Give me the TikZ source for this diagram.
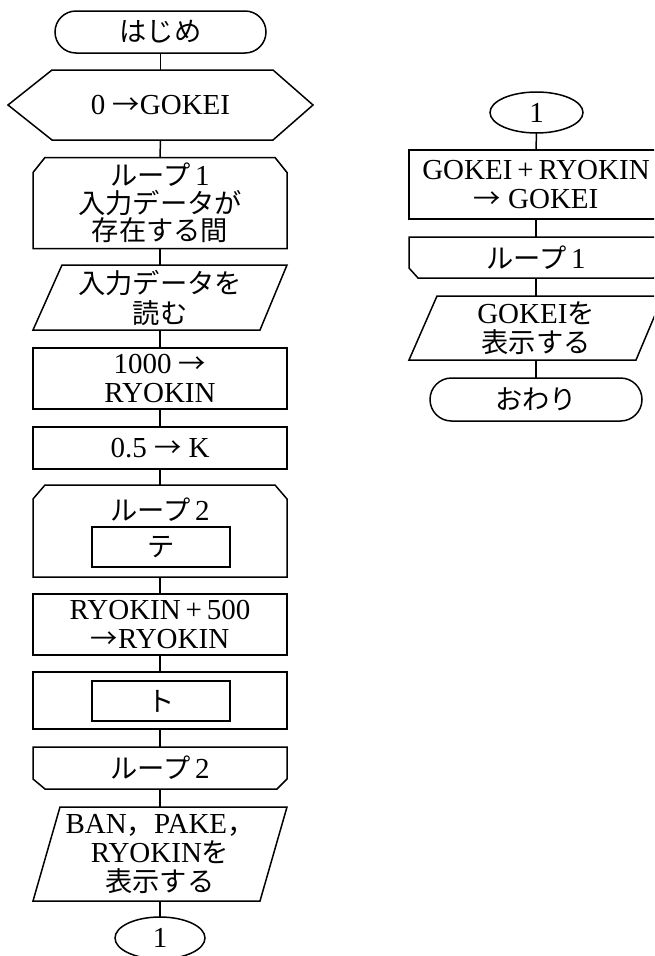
\documentclass[tikz,border=0pt]{standalone}
\usepackage{fontspec}
\setmainfont{Liberation Serif}
\newfontfamily\jpfont{Noto Sans CJK JP}[Scale=0.94]
\newcommand\JT[1]{{\jpfont #1}}
\usetikzlibrary{shapes.geometric,shapes.misc}
\begin{document}
\begin{tikzpicture}[x=1pt,y=-1pt,line width=1.5pt,
  every node/.style={font=\fontsize{29}{29}\selectfont,align=center,inner sep=0pt,outer sep=0pt},
  boxA/.style={draw,rectangle,minimum width=254pt},
  term/.style={draw,rounded rectangle,minimum width=212pt,minimum height=43pt},
  conn/.style={draw,ellipse,minimum width=92pt,minimum height=41pt},
  inbox/.style={draw,rectangle,minimum width=138pt,minimum height=40pt},
  link/.style={line width=1.5pt}]
\useasboundingbox (0,0) rectangle (654,956);
\begin{scope}
\clip (0,0) rectangle (654,956);
% ---------------- left column ----------------
\node[term,minimum width=211pt,minimum height=42pt] (S) at (160.5,32) {\JT{はじめ}};
\node[minimum width=305pt,minimum height=70pt] (H) at (160.5,105) {0 \JT{→}GOKEI};
\draw (H.west) -- ([xshift=44pt]H.north west) -- ([xshift=-40pt]H.north east) -- (H.east)
      -- ([xshift=-40pt]H.south east) -- ([xshift=44pt]H.south west) -- cycle;
\node[minimum width=254pt,minimum height=91pt,font=\fontsize{29}{27.5}\selectfont] (L1) at (160,203)
  {\JT{ループ}\,1\\\JT{入力データが}\\\JT{存在する間}};
\draw ([yshift=-15pt]L1.north west) -- ([xshift=12pt]L1.north west) -- ([xshift=-12pt]L1.north east)
      -- ([yshift=-15pt]L1.north east) -- (L1.south east) -- (L1.south west) -- cycle;
\node[minimum width=254pt,minimum height=65pt,font=\fontsize{29}{30}\selectfont] (P1) at (160,297.5)
  {\JT{入力データを}\\\JT{読む}};
\draw ([xshift=29pt]P1.north west) -- (P1.north east) -- ([xshift=-27pt]P1.south east) -- (P1.south west) -- cycle;
\node[boxA,minimum height=61pt] (B1) at (160,378.5) {1000 \JT{→}\\RYOKIN};
\node[boxA,minimum height=42pt] (B2) at (160,448) {0.5 \JT{→} K};
\node[minimum width=254pt,minimum height=92pt] (L2) at (160,531) {};
\draw ([yshift=-14pt]L2.north west) -- ([xshift=12pt]L2.north west) -- ([xshift=-12pt]L2.north east)
      -- ([yshift=-14pt]L2.north east) -- (L2.south east) -- (L2.south west) -- cycle;
\node (L2t) at (160,510) {\JT{ループ}\,2};
\node[inbox] (T1) at (161,547) {\JT{テ}};
\node[boxA,minimum height=61pt] (B3) at (160,624.5) {RYOKIN\,+\,500\\\JT{→}RYOKIN};
\node[boxA,minimum height=57pt] (B4) at (160,700.5) {};
\node[inbox] (T2) at (161,701) {\JT{ト}};
\node[minimum width=254pt,minimum height=42pt] (L2e) at (160,768) {\JT{ループ}\,2};
\draw (L2e.north west) -- (L2e.north east) -- ([yshift=10pt]L2e.south east) -- ([xshift=-10pt]L2e.south east)
      -- ([xshift=12pt]L2e.south west) -- ([yshift=10pt]L2e.south west) -- cycle;
\node[minimum width=254pt,minimum height=94pt] (P2) at (160,854)
  {BAN\JT{，}PAKE\JT{，}\\RYOKIN\JT{を}\\\JT{表示する}};
\draw ([xshift=27pt]P2.north west) -- (P2.north east) -- ([xshift=-27pt]P2.south east) -- (P2.south west) -- cycle;
\node[conn,minimum width=90pt,minimum height=42pt] (C1) at (160,938) {1};
\draw[link] (S.south) -- (H.north);
\draw[link] (H.south) -- (L1.north);
\draw[link] (L1.south) -- (P1.north);
\draw[link] (P1.south) -- (B1.north);
\draw[link] (B1.south) -- (B2.north);
\draw[link] (B2.south) -- (L2.north);
\draw[link] (L2.south) -- (B3.north);
\draw[link] (B3.south) -- (B4.north);
\draw[link] (B4.south) -- (L2e.north);
\draw[link] (L2e.south) -- (P2.north);
\draw[link] (P2.south) -- (C1.north);
% ---------------- right column ----------------
\node[conn,minimum width=93pt,minimum height=41pt] (C2) at (536.5,112.5) {1};
\node[boxA,minimum height=69pt] (B5) at (536,184.5) {GOKEI\,+\,RYOKIN\\\JT{→} GOKEI};
\node[minimum width=254pt,minimum height=41pt] (L1e) at (536,257.5) {\JT{ループ}\,1};
\draw (L1e.north west) -- (L1e.north east) -- ([yshift=10pt]L1e.south east) -- ([xshift=-9pt]L1e.south east)
      -- ([xshift=9pt]L1e.south west) -- ([yshift=10pt]L1e.south west) -- cycle;
\node[minimum width=254pt,minimum height=64pt,font=\fontsize{29}{29}\selectfont] (P3) at (536,328)
  {GOKEI\JT{を}\\\JT{表示する}};
\draw ([xshift=28pt]P3.north west) -- (P3.north east) -- ([xshift=-27pt]P3.south east) -- (P3.south west) -- cycle;
\node[term] (E2) at (536,399.5) {\JT{おわり}};
\draw[link] (C2.south) -- (B5.north);
\draw[link] (B5.south) -- (L1e.north);
\draw[link] (L1e.south) -- (P3.north);
\draw[link] (P3.south) -- (E2.north);
\end{scope}
\end{tikzpicture}
\end{document}
